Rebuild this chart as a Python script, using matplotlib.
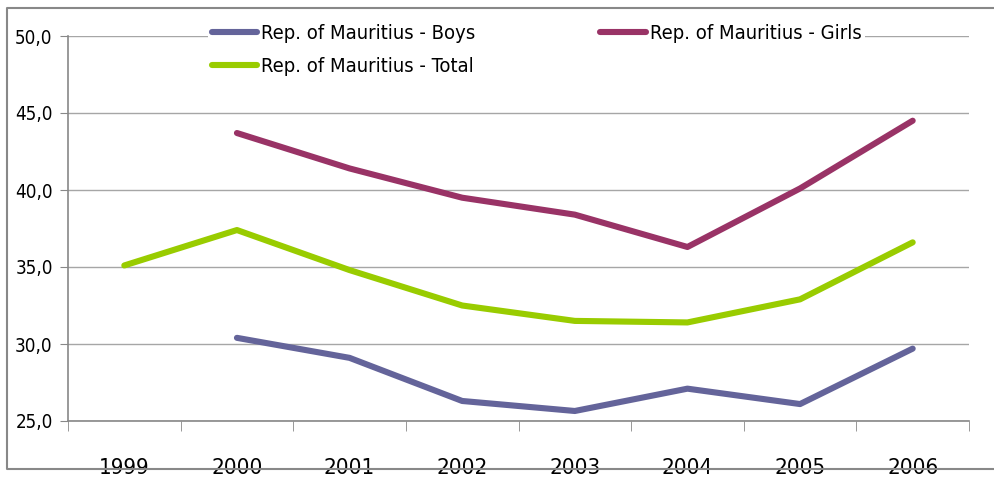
import matplotlib.pyplot as plt
from matplotlib.lines import Line2D

years = ["1999", "2000", "2001", "2002", "2003", "2004", "2005", "2006"]
boys = [None, 30.4, 29.1, 26.3, 25.65, 27.1, 26.1, 29.7]
girls = [None, 43.7, 41.4, 39.5, 38.4, 36.3, 40.1, 44.5]
total = [35.1, 37.4, 34.8, 32.5, 31.5, 31.4, 32.9, 36.6]
yticks = [25.0, 30.0, 35.0, 40.0, 45.0, 50.0]

plt.rcParams["font.family"] = ["DejaVu Sans"]
plt.rcParams["font.stretch"] = "condensed"

W, H = 995, 482
fig = plt.figure(figsize=(W / 100, H / 100), dpi=100)
ax = fig.add_axes([68 / W, 1 - 421 / H, (969 - 68) / W, (421 - 36) / H])


def series(vals):
    xs = [i for i, v in enumerate(vals) if v is not None]
    ys = [v for v in vals if v is not None]
    return xs, ys


# series drawn in legend order
for vals, col, lab in [(boys, "#64649a", "Rep. of Mauritius - Boys"),
                       (total, "#99cc00", "Rep. of Mauritius - Total"),
                       (girls, "#993366", "Rep. of Mauritius - Girls")]:
    xs, ys = series(vals)
    ax.plot(xs, ys, color=col, lw=4.4, solid_capstyle="round",
            solid_joinstyle="round", label=lab)

ax.set_xlim(-0.5, len(years) - 0.5)
ax.set_ylim(25, 50)
ax.set_yticks(yticks)
ax.set_yticklabels([f"{v:.1f}".replace(".", ",") for v in yticks], fontsize=13.5)
ax.yaxis.grid(True, color="#a6a6a6", lw=1)
ax.set_axisbelow(True)

ax.set_xticks(range(len(years)))
ax.set_xticklabels(years, fontsize=16)
ax.set_xticks([i - 0.5 for i in range(len(years) + 1)], minor=True)
ax.tick_params(axis="x", which="major", length=0, pad=27)
ax.tick_params(axis="x", which="minor", length=7, color="#888888", direction="out")
ax.tick_params(axis="y", length=6, color="#888888", pad=5)

for s in ["top", "right"]:
    ax.spines[s].set_visible(False)
for s in ["left", "bottom"]:
    ax.spines[s].set_color("#888888")
    ax.spines[s].set_linewidth(1.2)

leg = ax.legend(ncol=2, loc="upper center", bbox_to_anchor=(0.52, 1.068),
                fontsize=14.5, frameon=True, handlelength=2.25, handletextpad=0.2,
                columnspacing=6.2, labelspacing=0.68, borderpad=0.2)
leg.get_frame().set_edgecolor("none")
leg.get_frame().set_facecolor("white")
leg.get_frame().set_alpha(1)

# outer chart border: top, left, bottom only (right edge is cut off)
x0, y0, y1 = 7 / W, 1 - 469 / H, 1 - 8 / H
fig.add_artist(Line2D([1.0, x0, x0, 1.0], [y1, y1, y0, y0],
                      transform=fig.transFigure, color="#888888", lw=1.5))

fig.savefig("out.png", dpi=100)
